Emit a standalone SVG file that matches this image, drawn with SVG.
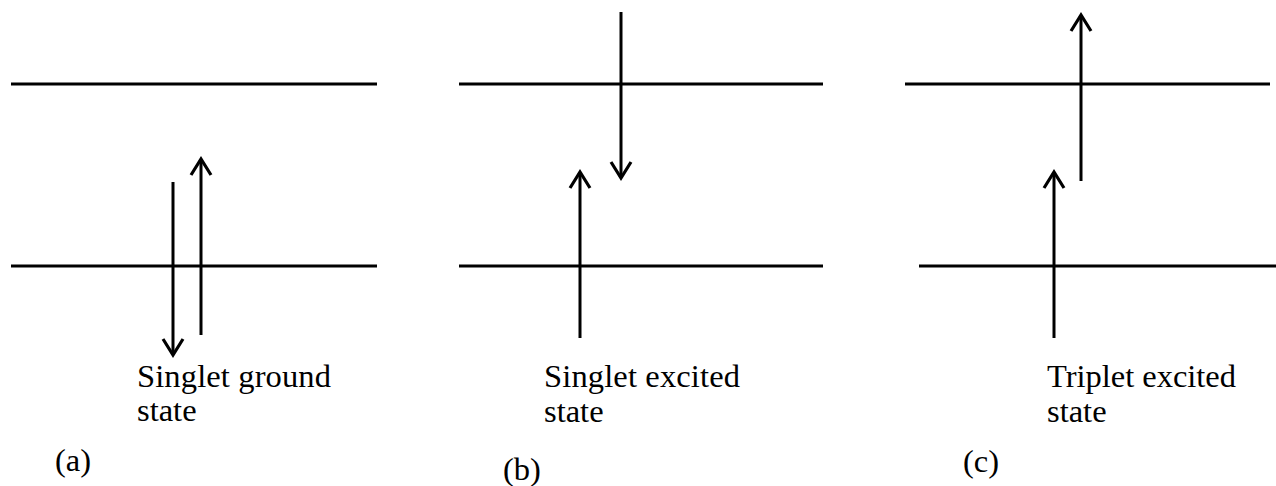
<svg xmlns="http://www.w3.org/2000/svg" width="1276" height="486" viewBox="0 0 1276 486">
<defs>
<marker id="head" viewBox="0 0 24 24" refX="21" refY="12" markerWidth="24" markerHeight="24" markerUnits="userSpaceOnUse" orient="auto">
<path d="M5,2 L21,12 L5,22" fill="none" stroke="#000" stroke-width="3.2" stroke-linejoin="miter"/>
</marker>
<style>
.lvl{stroke:#000;stroke-width:3;fill:none}
.arr{stroke:#000;stroke-width:3;fill:none}
text{font-family:"Liberation Serif","Times New Roman",serif;font-size:32.5px;fill:#000}
</style>
</defs>
<rect width="1276" height="486" fill="#fff"/>
<g id="levels">
<line class="lvl" x1="11" y1="84" x2="377" y2="84"/>
<line class="lvl" x1="11" y1="266" x2="377" y2="266"/>
<line class="lvl" x1="459" y1="84" x2="823" y2="84"/>
<line class="lvl" x1="459" y1="266" x2="823" y2="266"/>
<line class="lvl" x1="905" y1="84" x2="1270" y2="84"/>
<line class="lvl" x1="919" y1="266" x2="1276" y2="266"/>
</g>
<g id="connectors">
<line class="arr" x1="173" y1="182" x2="173" y2="355" marker-end="url(#head)"/>
<line class="arr" x1="201" y1="335" x2="201" y2="159" marker-end="url(#head)"/>
<line class="arr" x1="580" y1="338" x2="580" y2="172" marker-end="url(#head)"/>
<line class="arr" x1="621" y1="12" x2="621" y2="178" marker-end="url(#head)"/>
<line class="arr" x1="1054" y1="338" x2="1054" y2="172" marker-end="url(#head)"/>
<line class="arr" x1="1081" y1="181" x2="1081" y2="15" marker-end="url(#head)"/>
</g>
<g id="label-a">
<text x="137" y="387" textLength="194" lengthAdjust="spacing">Singlet ground</text>
<text x="137" y="421">state</text>
<text x="55" y="471">(a)</text>
</g>
<g id="label-b">
<text x="544" y="387" textLength="196" lengthAdjust="spacing">Singlet excited</text>
<text x="544" y="422">state</text>
<text x="503" y="480">(b)</text>
</g>
<g id="label-c">
<text x="1047" y="387" textLength="189" lengthAdjust="spacing">Triplet excited</text>
<text x="1047" y="422">state</text>
<text x="963" y="472">(c)</text>
</g>
</svg>
